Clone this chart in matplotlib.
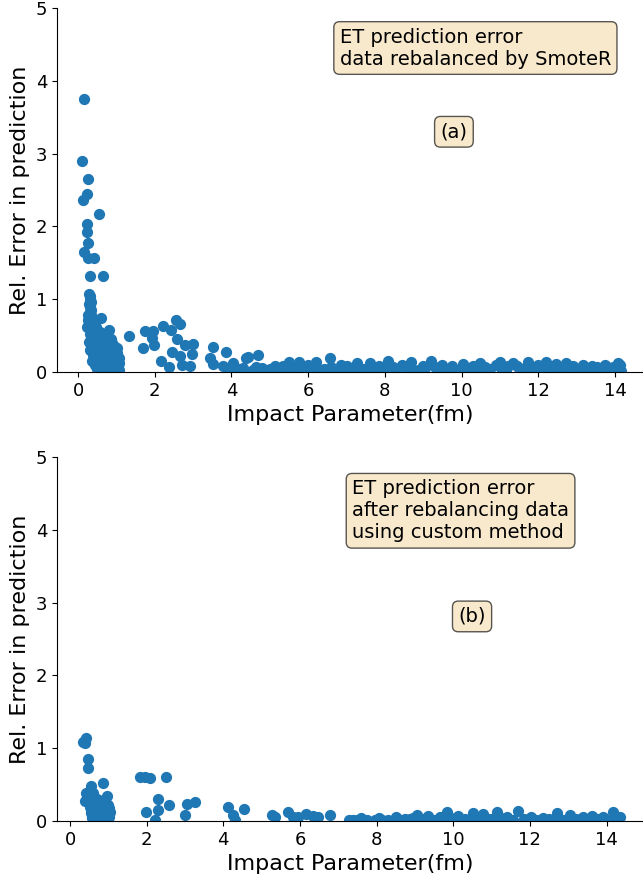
import matplotlib
matplotlib.use("Agg")
import matplotlib.pyplot as plt

# (a) SmoteR-rebalanced: impact parameter (fm) vs relative ET error
top_b = [0.15, 0.11, 0.26, 0.22, 0.13, 0.55, 0.22, 0.22, 0.26, 0.16, 0.26, 0.41, 0.31, 0.64,
         0.28, 0.30, 0.31, 0.33, 0.29, 0.32, 0.34, 0.30, 0.27, 0.35, 0.25, 0.31, 0.38, 0.24,
         0.33, 0.42, 0.59, 0.81,
         0.30, 0.40, 0.48, 0.36, 0.55, 0.28, 0.44, 0.62, 0.34, 0.52, 0.70, 0.40, 0.58, 0.78,
         0.86, 0.30, 0.47, 0.66, 0.93, 0.38, 0.55, 0.74, 1.00, 0.45, 0.62, 0.84, 1.04, 0.36,
         0.52, 0.70, 0.92, 0.43, 0.60, 0.78, 1.05, 0.50, 0.68, 0.88, 0.98, 0.56, 0.75, 1.08,
         0.95, 1.02, 0.88, 0.65, 0.72, 0.58,
         0.80, 0.90, 0.97, 1.06, 0.76, 0.84, 0.96, 1.02, 0.66, 0.82, 0.94, 1.08, 0.48, 0.52,
         0.46, 0.64, 0.70, 0.85,
         1.33, 1.74, 1.96, 2.22, 2.43, 2.55, 2.67, 1.70, 1.98, 1.94, 2.58, 2.17, 2.37, 2.46,
         2.65, 2.78, 3.00, 2.96, 2.70, 2.91, 3.52, 3.43, 3.52, 3.85, 3.78, 4.04, 4.39, 4.30,
         4.69, 4.43, 5.13, 5.50, 5.76, 6.20, 6.56, 7.26, 7.60, 8.08, 8.69, 9.21, 9.74, 10.04,
         10.47, 11.00, 11.34, 11.73, 12.21, 12.47, 12.73, 13.17, 13.52, 13.73, 14.08, 14.13,
         3.90, 4.20, 4.55, 4.80, 5.00, 5.30, 5.60, 5.90, 6.05, 6.40, 6.70, 6.90, 7.10, 7.45,
         7.80, 8.00, 8.30, 8.55, 8.90, 9.05, 9.40, 9.60, 9.90, 10.20, 10.50, 10.75, 11.15,
         11.50, 11.60, 11.90, 12.05, 12.35, 12.60, 12.95, 13.05, 13.35, 13.60, 13.90, 14.00,
         5.35, 6.00, 6.85, 7.00, 7.85, 8.45, 9.00, 9.50, 10.30, 10.90, 11.45, 12.00, 12.90,
         13.40, 13.95,
         4.10, 4.65, 4.95, 5.20, 5.45, 5.70, 6.30, 6.60, 7.30, 7.65, 7.95, 8.20, 8.75, 9.30,
         9.75, 10.10, 10.40, 10.60, 11.05, 11.20, 11.75, 12.25, 12.50, 12.75, 13.10, 13.25,
         13.70, 14.15]
top_err = [3.75, 2.90, 2.65, 2.45, 2.37, 2.17, 2.04, 1.92, 1.78, 1.65, 1.57, 1.57, 1.32, 1.32,
           1.08, 1.05, 1.01, 0.97, 0.93, 0.90, 0.86, 0.82, 0.78, 0.78, 0.72, 0.70, 0.68, 0.62,
           0.60, 0.63, 0.74, 0.58,
           0.52, 0.55, 0.50, 0.47, 0.46, 0.42, 0.42, 0.40, 0.38, 0.37, 0.36, 0.33, 0.32, 0.33,
           0.30, 0.30, 0.28, 0.27, 0.26, 0.24, 0.23, 0.22, 0.22, 0.19, 0.18, 0.18, 0.16, 0.15,
           0.14, 0.13, 0.12, 0.10, 0.09, 0.08, 0.08, 0.05, 0.04, 0.04, 0.02, 0.01, 0.01, 0.03,
           0.30, 0.33, 0.40, 0.50, 0.45, 0.55,
           0.24, 0.20, 0.15, 0.12, 0.06, 0.10, 0.05, 0.27, 0.15, 0.02, 0.36, 0.20, 0.62, 0.38,
           0.14, 0.35, 0.02, 0.45,
           0.50, 0.56, 0.57, 0.64, 0.58, 0.71, 0.66, 0.33, 0.38, 0.47, 0.46, 0.15, 0.07, 0.28,
           0.22, 0.37, 0.39, 0.25, 0.10, 0.08, 0.35, 0.20, 0.11, 0.28, 0.08, 0.13, 0.20, 0.06,
           0.23, 0.21, 0.08, 0.14, 0.14, 0.14, 0.19, 0.12, 0.12, 0.15, 0.14, 0.15, 0.09, 0.11,
           0.12, 0.14, 0.13, 0.14, 0.14, 0.11, 0.12, 0.10, 0.07, 0.10, 0.12, 0.10,
           0.04, 0.05, 0.03, 0.06, 0.04, 0.05, 0.03, 0.06, 0.04, 0.05, 0.03, 0.06, 0.04, 0.05,
           0.03, 0.06, 0.04, 0.05, 0.03, 0.06, 0.04, 0.05, 0.03, 0.06, 0.04, 0.05, 0.03,
           0.06, 0.04, 0.05, 0.03, 0.06, 0.04, 0.03, 0.05, 0.04, 0.03, 0.05, 0.04,
           0.09, 0.10, 0.10, 0.08, 0.09, 0.10, 0.09, 0.10, 0.09, 0.10, 0.09, 0.10, 0.09,
           0.08, 0.07,
           0.03, 0.07, 0.02, 0.06, 0.03, 0.07, 0.02, 0.07, 0.03, 0.07, 0.02, 0.07, 0.03, 0.07,
           0.02, 0.07, 0.03, 0.07, 0.02, 0.08, 0.03, 0.07, 0.02, 0.07, 0.03, 0.06, 0.02,
           0.02]

# (b) custom rebalancing
bot_b = [0.35, 0.42, 0.39, 0.48, 0.48, 0.54, 0.43, 0.39, 0.85, 0.96, 0.61,
         0.50, 0.58, 0.66, 0.74, 0.82, 0.90, 1.00, 0.53, 0.62, 0.70, 0.80, 0.88, 0.97, 1.05,
         0.55, 0.64, 0.72, 0.84, 0.93, 1.03, 0.57, 0.68, 0.78, 0.90, 0.60, 0.75, 0.86, 0.98,
         0.55, 0.65, 0.75, 0.85, 0.95, 1.02, 0.62, 0.80, 0.92, 0.70, 0.45, 0.52,
         1.83, 1.96, 2.09, 2.50, 2.29, 2.59, 1.98, 2.30, 2.22, 3.04, 3.26, 3.01,
         4.13, 4.26, 4.30, 4.54, 5.26, 5.35, 5.68, 5.83, 5.96, 6.17, 6.35, 6.48, 6.78, 7.29,
         7.39, 7.58, 8.07, 8.50, 8.87, 9.06, 9.35, 9.65, 9.84, 10.13, 10.52, 10.78, 11.13,
         11.39, 11.70, 12.02, 12.35, 12.71, 13.04, 13.39, 13.61, 13.91, 14.17, 14.35,
         8.15, 8.95, 9.20, 9.50, 9.95, 10.30, 10.65, 10.95, 11.25, 11.55, 11.85, 12.15,
         12.50, 12.85, 13.20, 13.50, 13.75, 14.05,
         7.50, 7.75, 7.95, 8.30, 8.65, 8.75, 9.10, 9.40, 9.75, 10.05, 10.40, 10.85, 11.05,
         11.45, 11.95, 12.25, 12.60, 12.95, 13.30, 13.85, 14.25]
bot_err = [1.09, 1.14, 1.07, 0.85, 0.73, 0.48, 0.39, 0.27, 0.53, 0.34, 0.38,
           0.30, 0.28, 0.31, 0.27, 0.24, 0.29, 0.22, 0.20, 0.17, 0.22, 0.19, 0.16, 0.20, 0.13,
           0.11, 0.09, 0.12, 0.10, 0.08, 0.06, 0.04, 0.03, 0.05, 0.02, 0.01, 0.01, 0.02, 0.04,
           0.15, 0.22, 0.10, 0.25, 0.12, 0.18, 0.06, 0.03, 0.08, 0.30, 0.30, 0.35,
           0.60, 0.60, 0.59, 0.60, 0.31, 0.22, 0.13, 0.15, 0.02, 0.24, 0.26, 0.09,
           0.19, 0.08, 0.02, 0.17, 0.09, 0.06, 0.12, 0.05, 0.05, 0.10, 0.07, 0.05, 0.08, 0.01,
           0.02, 0.04, 0.04, 0.05, 0.03, 0.08, 0.07, 0.06, 0.13, 0.07, 0.11, 0.10, 0.13,
           0.05, 0.14, 0.05, 0.04, 0.11, 0.08, 0.06, 0.07, 0.05, 0.13, 0.05,
           0.02, 0.04, 0.03, 0.02, 0.04, 0.03, 0.02, 0.03, 0.04, 0.02, 0.03, 0.02,
           0.03, 0.02, 0.03, 0.02, 0.03, 0.02,
           0.01, 0.02, 0.01, 0.02, 0.01, 0.03, 0.02, 0.01, 0.03, 0.01, 0.02, 0.01, 0.03,
           0.01, 0.02, 0.01, 0.02, 0.01, 0.02, 0.01, 0.02]

box = dict(boxstyle="round", facecolor="wheat", alpha=0.65)

fig = plt.figure(figsize=(6.43, 8.82), dpi=100)
ax1 = fig.add_axes([0.0886, 0.578, 0.9114, 0.413])
ax2 = fig.add_axes([0.0886, 0.069, 0.9114, 0.413])

for ax, b, err in [(ax1, top_b, top_err), (ax2, bot_b, bot_err)]:
    ax.scatter(b, err, s=50, color="#1f77b4")
    ax.set_ylim(0, 5)
    ax.set_xlabel("Impact Parameter(fm)", fontsize=16)
    ax.set_ylabel("Rel. Error in prediction", fontsize=16)
    ax.tick_params(labelsize=13)
    ax.spines["top"].set_visible(False)
    ax.spines["right"].set_visible(False)

ax1.set_xlim(-0.55, 14.73)
ax2.set_xlim(-0.34, 14.95)

ax1.text(10.36, 4.45, "ET prediction error\ndata rebalanced by SmoteR", fontsize=14,
         ha="center", va="center", multialignment="left", bbox=box)
ax1.text(9.8, 3.3, "(a)", fontsize=14, ha="center", va="center", bbox=box)
ax2.text(10.19, 4.26, "ET prediction error\nafter rebalancing data\nusing custom method",
         fontsize=14, ha="center", va="center", multialignment="left", bbox=box)
ax2.text(10.49, 2.81, "(b)", fontsize=14, ha="center", va="center", bbox=box)

fig.savefig("out.png", dpi=100)
